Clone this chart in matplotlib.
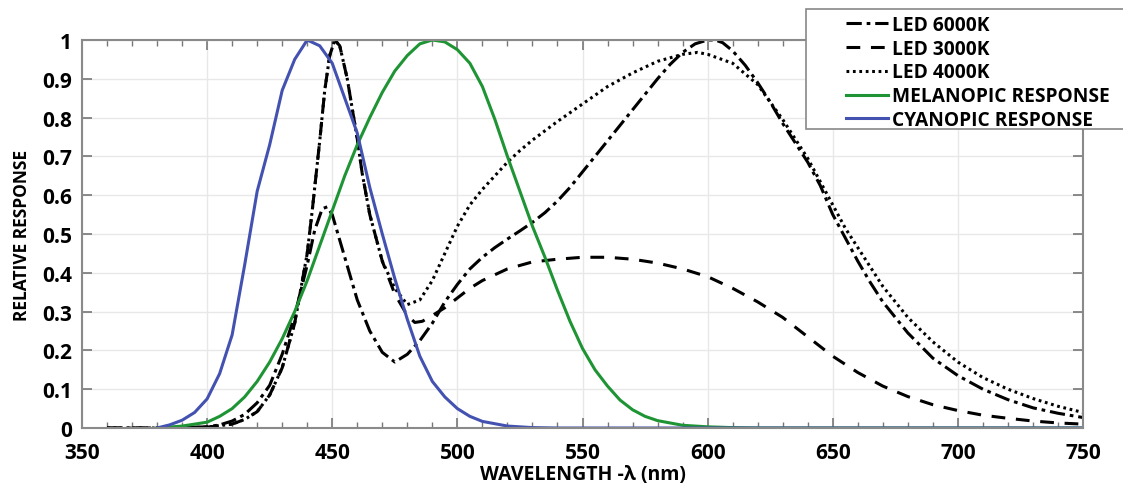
import matplotlib
matplotlib.use("Agg")
import matplotlib.pyplot as plt
from matplotlib.ticker import MultipleLocator
from matplotlib.patches import Rectangle

plt.rcParams['font.family'] = ['Open Sans', 'DejaVu Sans']
plt.rcParams['font.weight'] = 'bold'

# LED 6000K (dash-dot)
wl_6000 = [360, 380, 400, 405, 410, 415, 420, 425, 430, 435, 440, 443, 446, 448, 450, 455,
           460, 465, 470, 475, 480, 485, 490, 495, 500, 505, 510, 515, 520, 525, 530, 535,
           540, 545, 550, 555, 560, 565, 570, 575, 580, 585, 590, 595, 600, 603, 606, 610,
           615, 620, 625, 630, 635, 640, 645, 650, 655, 660, 665, 670, 680, 690, 700, 710,
           720, 730, 740, 750]
led_6000 = [0, 0, 0.003, 0.008, 0.018, 0.035, 0.065, 0.11, 0.19, 0.29, 0.42, 0.51, 0.565, 0.57, 0.55, 0.44,
            0.33, 0.25, 0.195, 0.17, 0.19, 0.225, 0.27, 0.325, 0.37, 0.41, 0.44, 0.465, 0.487, 0.508, 0.53, 0.555,
            0.585, 0.62, 0.66, 0.7, 0.74, 0.78, 0.82, 0.86, 0.9, 0.937, 0.968, 0.99, 1.0, 1.0, 0.993, 0.972,
            0.935, 0.89, 0.84, 0.785, 0.735, 0.685, 0.625, 0.55, 0.49, 0.43, 0.375, 0.325, 0.245, 0.18, 0.135, 0.1,
            0.073, 0.052, 0.038, 0.027]

# LED 3000K (dashed)
wl_3000 = [360, 380, 400, 410, 415, 420, 425, 430, 435, 440, 442, 445, 447, 449, 451, 453,
           456, 460, 462, 465, 470, 475, 480, 483, 486, 490, 495, 500, 505, 510, 520, 530,
           540, 550, 560, 570, 580, 590, 600, 610, 620, 630, 640, 650, 660, 670, 680, 690,
           700, 710, 720, 730, 740, 750]
led_3000 = [0, 0, 0.002, 0.01, 0.022, 0.042, 0.085, 0.155, 0.27, 0.45, 0.56, 0.74, 0.87, 0.96, 1.0, 0.985,
            0.9, 0.745, 0.655, 0.55, 0.43, 0.345, 0.29, 0.272, 0.275, 0.29, 0.31, 0.335, 0.36, 0.38, 0.41, 0.428,
            0.435, 0.44, 0.44, 0.435, 0.425, 0.41, 0.39, 0.36, 0.325, 0.285, 0.235, 0.185, 0.143, 0.108, 0.081, 0.06,
            0.045, 0.033, 0.025, 0.018, 0.013, 0.01]

# LED 4000K (dotted)
wl_4000 = [360, 380, 400, 410, 415, 420, 425, 430, 435, 440, 442, 445, 447, 449, 451, 453,
           456, 460, 462, 465, 470, 475, 480, 485, 490, 495, 500, 505, 510, 515, 520, 525,
           530, 540, 550, 560, 570, 580, 590, 596, 600, 610, 620, 630, 640, 650, 655, 660,
           670, 680, 690, 700, 710, 720, 730, 740, 750]
led_4000 = [0, 0, 0.002, 0.01, 0.022, 0.042, 0.085, 0.155, 0.27, 0.45, 0.56, 0.74, 0.87, 0.96, 1.0, 0.985,
            0.9, 0.745, 0.655, 0.55, 0.43, 0.36, 0.318, 0.33, 0.38, 0.45, 0.52, 0.575, 0.615, 0.65, 0.685, 0.715,
            0.742, 0.79, 0.835, 0.88, 0.915, 0.945, 0.963, 0.968, 0.963, 0.94, 0.885, 0.795, 0.695, 0.575, 0.515, 0.465,
            0.365, 0.285, 0.222, 0.17, 0.13, 0.1, 0.076, 0.056, 0.04]

# melanopic response (green)
wl_mel = [380, 390, 400, 405, 410, 415, 420, 425, 430, 435, 440, 445, 450, 455, 460, 465,
          470, 475, 480, 485, 490, 495, 500, 505, 510, 515, 520, 525, 530, 535, 540, 545,
          550, 555, 560, 565, 570, 575, 580, 590, 600, 610, 620, 750]
melanopic = [0, 0.005, 0.015, 0.03, 0.05, 0.08, 0.12, 0.17, 0.23, 0.3, 0.38, 0.47, 0.56, 0.65, 0.73, 0.8,
             0.865, 0.92, 0.96, 0.99, 1.0, 0.995, 0.975, 0.94, 0.88, 0.795, 0.7, 0.61, 0.52, 0.44, 0.355, 0.275,
             0.205, 0.15, 0.108, 0.072, 0.047, 0.03, 0.019, 0.007, 0.003, 0.001, 0, 0]

# cyanopic response (blue)
wl_cya = [380, 385, 390, 395, 400, 405, 410, 415, 420, 425, 430, 435, 440, 445, 450, 455,
          460, 465, 470, 475, 480, 485, 490, 495, 500, 505, 510, 520, 530, 540, 750]
cyanopic = [0, 0.008, 0.02, 0.04, 0.075, 0.14, 0.24, 0.42, 0.61, 0.73, 0.87, 0.95, 1.0, 0.985, 0.94, 0.85,
            0.76, 0.62, 0.5, 0.385, 0.28, 0.185, 0.12, 0.08, 0.05, 0.03, 0.017, 0.005, 0.001, 0, 0]

ytick_labels = ['0', '0.1', '0.2', '0.3', '0.4', '0.5', '0.6', '0.7', '0.8', '0.9', '1']

fig = plt.figure(figsize=(11.23, 4.89), dpi=100)
ax = fig.add_axes([0.073, 0.1227, 0.8914, 0.7935])

ax.plot(wl_6000, led_6000, color='black', lw=2.2, ls=(0, (5, 1.6, 1.2, 1.6)), label='LED 6000K')
ax.plot(wl_3000, led_3000, color='black', lw=2.2, ls=(0, (4.5, 3.5)), label='LED 3000K')
ax.plot(wl_4000, led_4000, color='black', lw=2.2, ls=(0, (0.9, 1.2)), label='LED 4000K')
ax.plot(wl_mel, melanopic, color='#1f9434', lw=2.2, label='MELANOPIC RESPONSE')
ax.plot(wl_cya, cyanopic, color='#4352b0', lw=2.2, label='CYANOPIC RESPONSE')

ax.set_xlim(350, 750)
ax.set_ylim(0, 1)
ax.xaxis.set_major_locator(MultipleLocator(50))
ax.xaxis.set_minor_locator(MultipleLocator(10))
ax.set_yticks([i / 10 for i in range(11)])
ax.set_yticklabels(ytick_labels)
ax.grid(True, which='major', color='#e8e8e8', lw=1)
ax.set_axisbelow(True)
ax.tick_params(which='both', direction='in', top=True, right=True, color='#777777')
ax.tick_params(which='major', length=7, width=1.2, labelsize=15)
ax.tick_params(axis='x', which='major', pad=10)
ax.tick_params(axis='y', which='major', pad=7)
ax.tick_params(which='minor', length=4, width=1)
for s in ax.spines.values():
    s.set_color('#8a8a8a')
    s.set_linewidth(1.5)

ax.set_xlabel('WAVELENGTH -λ (nm)', fontsize=14, fontweight='bold', labelpad=1)
ax.set_ylabel('RELATIVE RESPONSE', fontsize=12.5, fontweight='bold', labelpad=8)

# legend box runs off the right edge of the figure
fig.patches.append(Rectangle((806 / 1123, 1 - 130 / 489), 0.4, 120 / 489, transform=fig.transFigure,
                             facecolor='white', edgecolor='#888888', lw=1.2, zorder=5))
leg = fig.legend(loc='upper left', bbox_to_anchor=(840 / 1123, 1 - 10 / 489), fontsize=13.8,
                 frameon=False, handlelength=2.2, handletextpad=0.2,
                 labelspacing=0.2, borderpad=0.3, borderaxespad=0)
leg.set_zorder(6)
for t in leg.get_texts():
    t.set_fontweight('bold')

fig.savefig('out.png', dpi=100)
